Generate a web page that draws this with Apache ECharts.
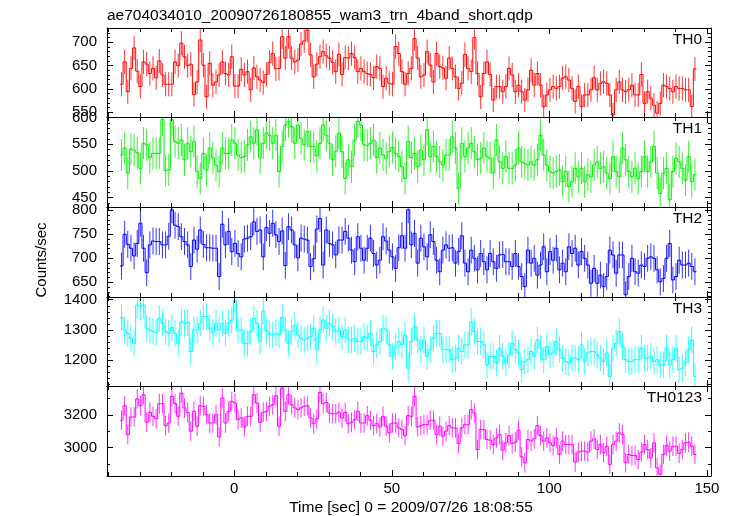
<!DOCTYPE html>
<html><head><meta charset="utf-8">
<script src="https://cdn.jsdelivr.net/npm/echarts@6/dist/echarts.min.js"></script>
<style>html,body{margin:0;padding:0;background:#fff}#c{width:733px;height:516px}</style>
</head><body><div id="c"></div>
<script>
// ---------------- data ----------------
const chartTitle = 'ae704034010_20090726180855_wam3_trn_4band_short.qdp';
const xAxisName = 'Time [sec] 0 = 2009/07/26 18:08:55';
const yAxisName = 'Counts/sec';
const bandNames = ['TH0', 'TH1', 'TH2', 'TH3', 'TH0123'];
const t0 = -35.8;          // centre of first bin (sec)
const binSize = 1;         // sec
const xMin = -40.4, xMax = 151.3;
const xMajorTicks = [0, 50, 100, 150];
const xMinorTicks = [-40, -30, -20, -10, 0, 10, 20, 30, 40, 50, 60, 70, 80, 90, 100, 110, 120, 130, 140, 150];

const th0 = [
610,658,594,644,688,638,605,658,653,633,644,624,660,630,610,610,610,658,650,698,
669,650,653,588,615,705,651,583,655,608,615,630,658,633,630,669,606,606,642,630,
637,598,645,626,619,614,631,657,676,643,644,712,666,712,666,658,662,696,703,726,
673,626,653,669,680,671,666,657,637,674,631,667,666,676,667,637,644,637,633,631,
624,648,644,605,623,612,610,691,676,637,610,633,
644,708,666,626,630,680,651,615,676,648,645,623,666,644,626,601,612,674,644,637,
710,633,583,633,658,631,576,605,605,594,605,644,630,594,608,594,576,598,640,608,
633,608,562,587,598,605,601,605,623,626,619,601,573,605,562,587,587,598,624,598,
612,615,612,587,544,598,615,598,594,598,608,587,587,631,569,594,580,565,548,569,
608,605,601,594,605,601,601,598,598,562,643];
const th1 = [
530,543,496,541,539,534,505,552,549,525,533,533,533,596,501,502,596,555,552,558,
521,552,536,555,499,486,533,502,543,525,511,499,543,533,533,558,552,530,525,527,
549,564,552,577,525,552,571,567,552,567,499,546,586,593,583,552,586,561,549,574,
546,546,528,552,586,567,552,521,537,571,536,486,521,508,558,593,586,549,548,552,
558,525,543,530,524,537,544,533,527,508,486,555,
525,533,508,539,521,577,527,546,527,517,511,530,530,564,543,467,552,527,543,552,
536,521,524,543,527,524,496,558,517,505,527,505,505,511,543,517,514,511,517,511,
521,567,530,511,499,496,499,502,480,499,471,480,505,489,505,480,493,489,511,517,
505,508,496,486,527,499,489,543,521,499,489,505,486,499,527,499,517,546,496,458,
496,505,446,499,524,517,505,483,527,480,493];
const th2 = [
684,750,729,721,705,731,773,721,670,728,736,735,735,728,728,746,801,769,766,745,
735,728,683,738,719,759,729,722,722,721,721,662,771,728,756,714,731,710,703,740,
742,745,776,756,759,703,764,752,773,749,735,757,685,766,759,728,701,742,740,738,
683,699,761,783,686,759,731,728,707,738,738,756,742,717,693,745,721,696,721,742,
710,686,696,745,736,717,703,679,722,747,721,801,
728,752,690,742,724,703,749,735,696,672,717,728,721,722,690,714,747,690,672,717,
700,676,710,693,676,710,693,679,707,708,693,693,683,710,683,662,641,717,690,700,
665,686,724,672,714,696,721,676,690,672,724,710,721,686,714,700,686,648,679,648,
665,641,662,717,707,669,707,707,624,662,700,672,669,686,683,700,703,700,676,651,
658,700,731,655,662,696,686,686,690,683,672];
const th3 = [
1341,1300,1289,1273,1256,1382,1377,1382,1306,1300,1295,1291,1338,1322,1295,1289,1308,1289,1256,1327,
1322,1325,1229,1300,1300,1322,1344,1344,1306,1292,1322,1300,1322,1289,1322,1333,1398,1300,1300,1256,
1256,1295,1338,1322,1262,1362,1297,1286,1284,1289,1284,1341,1300,1256,1295,1316,1284,1273,1267,1273,
1278,1306,1235,1300,1333,1306,1322,1311,1295,1300,1278,1300,1267,1267,1273,1262,1262,1278,1273,1289,
1229,1251,1262,1306,1300,1251,1213,1245,1262,1251,1284,1174,
1262,1311,1267,1235,1267,1213,1235,1273,1289,1289,1235,1235,1235,1202,1207,1240,1229,1251,1251,1327,
1295,1262,1262,1251,1185,1213,1213,1191,1240,1213,1191,1218,1256,1235,1224,1169,1196,1202,1229,1213,
1267,1240,1202,1245,1218,1224,1262,1235,1207,1196,1191,1207,1207,1202,1251,1196,1224,1229,1229,1218,
1207,1196,1224,1147,1240,1256,1295,1245,1202,1196,1196,1202,1202,1240,1207,1207,1213,1196,1202,1185,
1185,1240,1185,1202,1240,1169,1174,1191,1235,1267,1147];
const th0123 = [
3168,3257,3080,3188,3188,3298,3257,3324,3155,3216,3192,3176,3269,3269,3135,3151,3314,3269,3192,3334,
3243,3216,3101,3222,3131,3257,3253,3202,3151,3151,3202,3066,3304,3151,3222,3283,3273,3172,3182,3127,
3192,3192,3324,3273,3155,3216,3222,3253,3263,3318,3131,3365,3222,3324,3263,3243,3233,3243,3253,3257,
3182,3147,3176,3338,3269,3277,3212,3208,3208,3216,3182,3216,3147,3155,3172,3222,3151,3151,3196,3168,
3135,3147,3127,3192,3131,3090,3151,3151,3121,3111,3074,3196,
3192,3314,3127,3135,3141,3141,3168,3168,3080,3131,3070,3101,3135,3121,3121,3026,3121,3141,3141,3233,
3212,2989,3111,3111,3050,3046,3019,3060,3080,2985,3030,3074,3026,3034,3107,2944,2908,3050,3040,3054,
3135,3074,3040,3060,3030,3013,3060,2959,3040,3019,3019,3019,2912,2973,2979,2979,2973,3040,3054,2989,
3019,2969,3009,2898,3019,3040,3090,3080,2908,2959,2952,2952,2928,2973,3019,2989,2938,3030,2877,2837,
2959,3013,2979,3009,3009,2965,2989,3030,3034,3009,2959];

// 1-sigma error per band (counts/sec)
const errTH0 = 26, errTH1 = 30, errTH2 = 28, errTH3 = 44, errTH0123 = 60;

// y axis ranges and tick labels per panel
const yMinVals = [539.7, 432.6, 619.4, 1115.2, 2827];
const yMaxVals = [730.7, 601.1, 806.9, 1408.9, 3377.4];
const yMajorTicks = [[550, 600, 650, 700], [450, 500, 550, 600], [650, 700, 750, 800], [1200, 1300, 1400], [3000, 3200]];
const yMinorStep = [10, 10, 10, 20, 100];

// ---------------- styling / layout ----------------
const seriesValues = [th0, th1, th2, th3, th0123];
const seriesErr = [errTH0, errTH1, errTH2, errTH3, errTH0123];
const colors = ['#ff0000', '#00ee00', '#0000ff', '#00ffff', '#ff00ff'];
const panelTop = [28, 117, 207, 297, 386];
const panelBottom = [117, 207, 297, 386, 476];
const LEFT = 107, WIDTH = 604;
const FONT = '"Liberation Sans", Arial, Helvetica, sans-serif';
const plain = v => String(v);

function minorTicks(min, max, step) {
  const out = [];
  for (let v = Math.ceil(min / step) * step; v <= max + 1e-9; v += step) out.push(Math.round(v * 1000) / 1000);
  return out;
}

const grids = [], xAxes = [], yAxes = [], series = [];
for (let p = 0; p < 5; p++) {
  grids.push({left: LEFT, top: panelTop[p], width: WIDTH, height: panelBottom[p] - panelTop[p],
    containLabel: false, outerBoundsMode: 'none', show: false});
  const isBottom = p === 4;
  const xa = (pos, ticks, len, line, lab) => ({
    type: 'value', gridIndex: p, min: xMin, max: xMax, position: pos,
    axisLine: {show: line, onZero: false, lineStyle: {color: '#000', width: 1}},
    axisTick: {show: true, inside: true, length: len, customValues: ticks, lineStyle: {color: '#000', width: 1}},
    axisLabel: {show: lab, customValues: ticks, formatter: plain, color: '#000', fontSize: 15, fontFamily: FONT, margin: 5},
    splitLine: {show: false}, minorTick: {show: false}, z: 10
  });
  xAxes.push(xa('bottom', xMajorTicks, 6, true, isBottom));
  xAxes.push(xa('bottom', xMinorTicks, 4, false, false));
  xAxes.push(xa('top', xMajorTicks, 6, true, false));
  xAxes.push(xa('top', xMinorTicks, 4, false, false));
  const yMinorList = minorTicks(yMinVals[p], yMaxVals[p], yMinorStep[p]);
  const ya = (pos, ticks, len, line, lab) => ({
    type: 'value', gridIndex: p, min: yMinVals[p], max: yMaxVals[p], position: pos,
    axisLine: {show: line, onZero: false, lineStyle: {color: '#000', width: 1}},
    axisTick: {show: true, inside: true, length: len, customValues: ticks, lineStyle: {color: '#000', width: 1}},
    axisLabel: {show: lab, customValues: ticks, formatter: plain, color: '#000', fontSize: 15, fontFamily: FONT, margin: 10},
    splitLine: {show: false}, minorTick: {show: false}, z: 10
  });
  yAxes.push(ya('left', yMajorTicks[p], 6, true, true));
  yAxes.push(ya('left', yMinorList, 3, false, false));
  yAxes.push(ya('right', yMajorTicks[p], 6, true, false));
  yAxes.push(ya('right', yMinorList, 3, false, false));

  const vals = seriesValues[p];
  const data = vals.map((v, i) => [t0 + i * binSize, v, seriesErr[p], i > 0 ? vals[i - 1] : v]);
  series.push({
    type: 'custom', xAxisIndex: 4 * p, yAxisIndex: 4 * p, clip: true,
    itemStyle: {color: colors[p]},
    dimensions: ['t', 'v', 'e', 'pv'], encode: {x: 0, y: 1},
    data: data, silent: true, animation: false,
    renderItem: function (params, api) {
      const t = api.value(0), v = api.value(1), e = api.value(2), pv = api.value(3);
      const h = binSize / 2;
      const a = api.coord([t - h, v]), b = api.coord([t + h, v]);
      const top = api.coord([t, v + e]), bot = api.coord([t, v - e]);
      const pp = api.coord([t - h, pv]);
      const col = colors[p];
      const cs = params.coordSys;
      return {
        type: 'group',
        clipPath: {type: 'rect', shape: {x: cs.x, y: cs.y, width: cs.width, height: cs.height}},
        children: [
          {type: 'line', shape: {x1: top[0], y1: top[1], x2: bot[0], y2: bot[1]}, style: {stroke: col, lineWidth: 1, opacity: 0.8}},
          {type: 'line', shape: {x1: pp[0], y1: pp[1], x2: a[0], y2: a[1]}, style: {stroke: col, lineWidth: 1}},
          {type: 'line', shape: {x1: a[0], y1: a[1], x2: b[0], y2: b[1]}, style: {stroke: col, lineWidth: 1}}
        ]
      };
    }
  });
}

const graphics = [
  {type: 'text', x: 107, y: 16, style: {text: chartTitle, font: '15.5px ' + FONT, fill: '#000', textAlign: 'left', textVerticalAlign: 'middle'}},
  {type: 'text', x: 411, y: 507.5, style: {text: xAxisName, font: '15.5px ' + FONT, fill: '#000', textAlign: 'center', textVerticalAlign: 'middle'}},
  {type: 'text', x: 41.5, y: 260, rotation: Math.PI / 2, style: {text: yAxisName, font: '15px ' + FONT, fill: '#000', textAlign: 'center', textVerticalAlign: 'middle'}}
];
for (let p = 0; p < 5; p++) {
  graphics.push({type: 'text', x: 702, y: panelTop[p] + 11.3, z: 100,
    style: {text: bandNames[p], font: '15.5px ' + FONT, fill: '#000', textAlign: 'right', textVerticalAlign: 'middle'}});
}

const chart = echarts.init(document.getElementById('c'), null, {renderer: 'canvas'});
chart.setOption({
  backgroundColor: '#fff',
  animation: false,
  grid: grids, xAxis: xAxes, yAxis: yAxes, series: series, graphic: graphics
});
</script></body></html>
